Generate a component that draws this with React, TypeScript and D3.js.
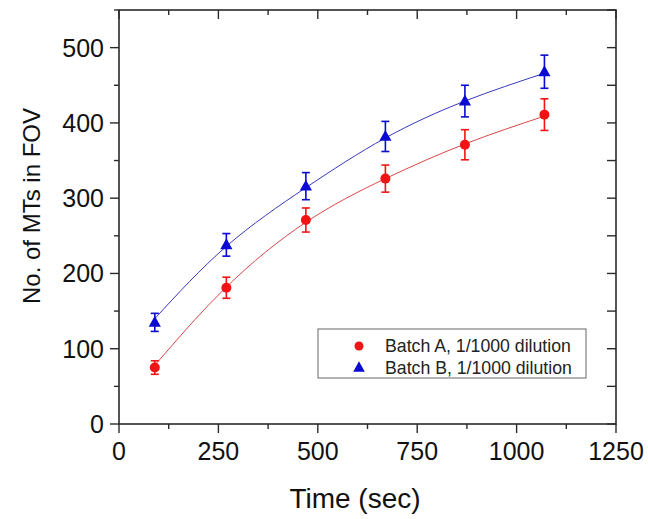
import React from "react";
import * as d3 from "d3";

const times = [90, 270, 470, 670, 870, 1070];
const batchA = [75, 181, 271, 326, 371, 411];
const errA = [9, 14, 16, 18, 20, 21];
const batchB = [135, 238, 316, 382, 429, 468];
const errB = [12, 15, 18, 20, 21, 22];
const fitA = [78, 182, 268, 326, 372, 409];
const fitB = [140, 236, 314, 380, 429, 466];
const xTicks = [0, 250, 500, 750, 1000, 1250];
const xMinor = [125, 375, 625, 875, 1125];
const yTicks = [0, 100, 200, 300, 400, 500];
const yMinor = [50, 150, 250, 350, 450, 550];
const legendLabels = ["Batch A, 1/1000 dilution", "Batch B, 1/1000 dilution"];

const W = 648;
const H = 519;
const L = 119, R = 616, T = 10, B = 424;
const FONT = "'Liberation Sans', Arial, Helvetica, sans-serif";
const RED = "#f01414";
const BLUE = "#0a0ad2";
const AXIS = "#2a2a2a";

export default function App() {
  const x = d3.scaleLinear().domain([0, 1250]).range([L, R]);
  const y = d3.scaleLinear().domain([0, 550]).range([B, T]);

  const lineGen = d3
    .line<number>()
    .x((_, i) => x(times[i]))
    .y((d) => y(d))
    .curve(d3.curveNatural);

  const tri = (cx: number, cy: number, s: number) =>
    `M${cx},${cy - s * 0.62} L${cx + s * 0.58},${cy + s * 0.42} L${cx - s * 0.58},${cy + s * 0.42} Z`;

  const errBar = (xv: number, v: number, e: number, color: string, key: string) => {
    const cx = x(xv);
    const y1 = y(v + e);
    const y2 = y(v - e);
    return (
      <g key={key} stroke={color} strokeWidth={1.6}>
        <line x1={cx} x2={cx} y1={y1} y2={y2} />
        <line x1={cx - 4} x2={cx + 4} y1={y1} y2={y1} />
        <line x1={cx - 4} x2={cx + 4} y1={y2} y2={y2} />
      </g>
    );
  };

  const allX = [...xTicks, ...xMinor];
  const allY = [...yTicks, ...yMinor].filter((v) => v <= 550);

  return (
    <svg
      width={W}
      height={H}
      style={{ position: "absolute", left: 0, top: 0, background: "#fff" }}
      fontFamily={FONT}
    >
      <rect x={0} y={0} width={W} height={H} fill="#fff" />
      {/* fit lines */}
      <path d={lineGen(fitA) || ""} fill="none" stroke="#d84848" strokeWidth={1} />
      <path d={lineGen(fitB) || ""} fill="none" stroke="#3838c0" strokeWidth={1} />

      {/* error bars */}
      {times.map((t, i) => errBar(t, batchA[i], errA[i], RED, "ea" + i))}
      {times.map((t, i) => errBar(t, batchB[i], errB[i], BLUE, "eb" + i))}

      {/* markers */}
      {times.map((t, i) => (
        <circle key={"ma" + i} cx={x(t)} cy={y(batchA[i])} r={5} fill={RED} />
      ))}
      {times.map((t, i) => (
        <path key={"mb" + i} d={tri(x(t), y(batchB[i]), 10.5)} fill={BLUE} />
      ))}

      {/* frame */}
      <rect x={L} y={T} width={R - L} height={B - T} fill="none" stroke={AXIS} strokeWidth={1.6} />

      {/* bottom & top ticks */}
      {allX.map((v) => {
        const major = xTicks.includes(v);
        return (
          <g key={"xt" + v} stroke={AXIS} strokeWidth={1.4}>
            <line x1={x(v)} x2={x(v)} y1={B} y2={B + (major ? 9 : 5)} />
            <line x1={x(v)} x2={x(v)} y1={T} y2={T + (major ? 9 : 5)} />
          </g>
        );
      })}
      {/* left & right ticks */}
      {allY.map((v) => {
        const major = yTicks.includes(v);
        return (
          <g key={"yt" + v} stroke={AXIS} strokeWidth={1.4}>
            <line x1={L} x2={L - (major ? 9 : 5)} y1={y(v)} y2={y(v)} />
            <line x1={R} x2={R - 9} y1={y(v)} y2={y(v)} />
          </g>
        );
      })}

      {/* tick labels */}
      {xTicks.map((v) => (
        <text key={"xl" + v} x={x(v)} y={460} fontSize={25} textAnchor="middle" fill="#111">
          {v}
        </text>
      ))}
      {yTicks.map((v) => (
        <text
          key={"yl" + v}
          x={104}
          y={y(v)}
          dy="0.36em"
          fontSize={25}
          textAnchor="end"
          fill="#111"
        >
          {v}
        </text>
      ))}

      {/* axis titles */}
      <text x={355} y={508} fontSize={28} textAnchor="middle" fill="#111">
        Time (sec)
      </text>
      <text
        transform={`translate(40,206) rotate(-90)`}
        fontSize={24}
        textAnchor="middle"
        fill="#111"
      >
        No. of MTs in FOV
      </text>

      {/* legend */}
      <rect x={318} y={329} width={268} height={49} fill="#fff" stroke="#666" strokeWidth={1} />
      <circle cx={359} cy={346} r={4.5} fill={RED} />
      <path d={tri(359, 367.5, 10)} fill={BLUE} />
      <text x={385} y={346} dy="0.35em" fontSize={17.7} fill="#222">
        {legendLabels[0]}
      </text>
      <text x={385} y={367.5} dy="0.35em" fontSize={17.7} fill="#222">
        {legendLabels[1]}
      </text>
    </svg>
  );
}
